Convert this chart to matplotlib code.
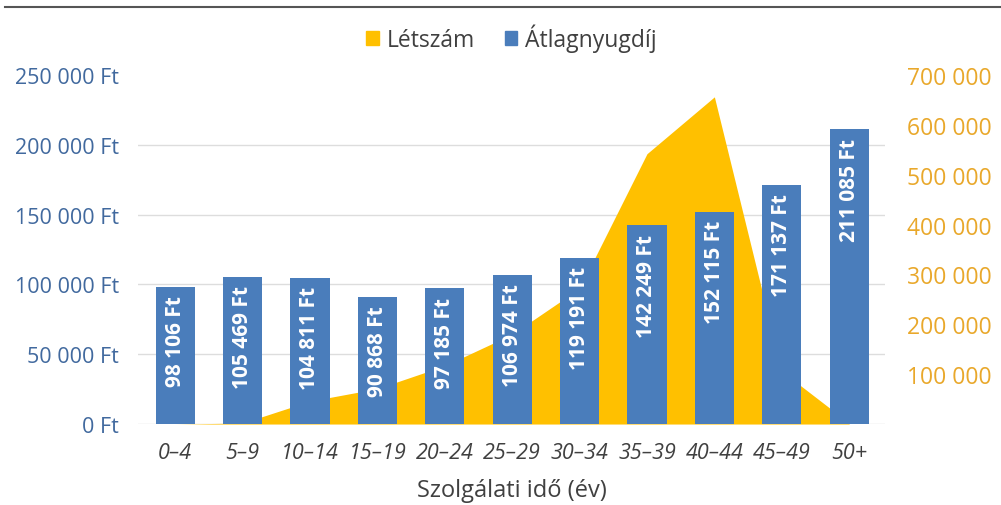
import numpy as np
import matplotlib.pyplot as plt
from matplotlib.lines import Line2D
from matplotlib.patches import Patch

plt.rcParams['font.family'] = ['Open Sans', 'DejaVu Sans']

categories = ['0–4', '5–9', '10–14', '15–19', '20–24', '25–29',
              '30–34', '35–39', '40–44', '45–49', '50+']
atlagnyugdij = [98106, 105469, 104811, 90868, 97185, 106974,
                119191, 142249, 152115, 171137, 211085]
letszam = [0, 2000, 46000, 71000, 117000, 180000,
           272000, 542000, 656000, 106000, 2000]

blue = '#4a7dbb'
yellow = '#ffc000'
left_col = '#41699e'
right_col = '#e9a82b'
text_col = '#404040'


def ft(v):
    return f"{v:,}".replace(',', ' ') + ' Ft'


fig = plt.figure(figsize=(10.01, 5.06), dpi=100)
ax_area = fig.add_axes([0.138, 0.160, 0.746, 0.690])
ax_bar = ax_area.twinx()

x = np.arange(len(categories))

# area (right scale), sits underneath
ax_area.fill_between(x, letszam, color=yellow, lw=0, zorder=2)
ax_area.set_ylim(0, 700000)
ax_area.set_xlim(-0.55, 10.53)
ax_area.yaxis.tick_right()
ax_area.set_yticks(np.arange(100000, 700001, 100000))
ax_area.set_yticklabels([f"{v:,}".replace(',', ' ') for v in range(100000, 700001, 100000)],
                        color=right_col, fontsize=16.5)
# gridlines follow the left (Ft) scale
ax_area.set_yticks(np.arange(0, 250001, 50000) * 700000 / 250000, minor=True)
ax_area.grid(which='minor', axis='y', color='#dddddd', lw=1, zorder=0)
ax_area.tick_params(axis='y', which='both', length=0, pad=16)
ax_area.set_xticks(x)
ax_area.set_xticklabels(categories, fontstyle='italic', color=text_col, fontsize=15.5)
ax_area.tick_params(axis='x', length=0, pad=13)
ax_area.set_xlabel('Szolgálati idő (év)', color=text_col, fontsize=17, labelpad=11)

# bars (left scale)
ax_bar.bar(x, atlagnyugdij, width=0.58, color=blue, zorder=3)
ax_bar.set_ylim(0, 250000)
ax_bar.yaxis.tick_left()
ax_bar.set_yticks(np.arange(0, 250001, 50000))
ax_bar.set_yticklabels([ft(v) for v in range(0, 250001, 50000)], color=left_col, fontsize=15.5)
ax_bar.tick_params(axis='y', length=0, pad=14)

for i, v in enumerate(atlagnyugdij):
    ax_bar.annotate(ft(v), (i, v), xytext=(0, -6), textcoords='offset points',
                    rotation=90, ha='center', va='top', color='white',
                    fontsize=15, fontweight='bold')

for a in (ax_area, ax_bar):
    for s in a.spines.values():
        s.set_visible(False)

handles = [Patch(color=yellow, label='Létszám'), Patch(color=blue, label='Átlagnyugdíj')]
fig.legend(handles=handles, loc='upper center', bbox_to_anchor=(0.511, 0.992), ncol=2,
           frameon=False, fontsize=16.5, handlelength=0.55, handleheight=0.55,
           handletextpad=0.35, columnspacing=1.3, labelcolor=text_col)

fig.add_artist(Line2D([0.005, 1.0], [0.984, 0.984], color='#555555', lw=1.5))

fig.savefig('out.png', dpi=100)
